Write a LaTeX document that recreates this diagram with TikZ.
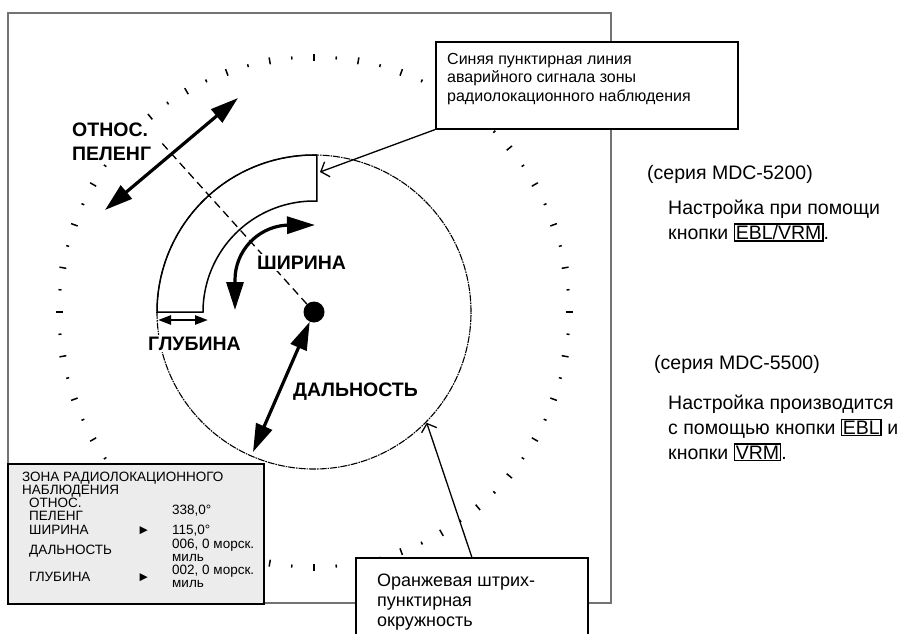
\documentclass[tikz,border=0pt]{standalone}
\usepackage{fontspec}
\setmainfont{Liberation Sans}
\usetikzlibrary{calc,arrows.meta}

\newcommand{\keybox}[1]{{\setlength{\fboxsep}{0.6pt}\setlength{\fboxrule}{1.5pt}\fbox{#1}}}

\begin{document}
\begin{tikzpicture}[x=1pt,y=1pt,
    biglabel/.style={font=\fontsize{19.5}{24.3}\bfseries\selectfont, fill=white, inner sep=2pt, anchor=base west, align=left},
    tbl/.style={font=\fontsize{13.5}{13}\selectfont, inner sep=0pt, anchor=base west, align=left},
    note/.style={font=\fontsize{19.5}{24.7}\selectfont, inner sep=0pt, anchor=base west, align=left},
    callout/.style={draw, line width=1.6pt, fill=white, anchor=north west},
    dblarrow/.style={line width=3.2pt, {Triangle[length=28pt,width=17pt]}-{Triangle[length=28pt,width=17pt]}},
    pointer/.style={line width=1.3pt, -{Straight Barb[length=7pt,width=16pt]}},
]
    \useasboundingbox (0,0) rectangle (904,-633);
    \clip (0,0) rectangle (904,-633);

    % screen frame
    \draw[black!55, line width=1.3pt] (8,-13) rectangle (611,-603);

    \node[circle, fill, inner sep=0pt, minimum size=21pt] (c) at (314,-312) {};

    % bearing scale
    \foreach \a in {0,5,...,355} {
        \pgfmathsetmacro{\ticklen}{mod(\a,10)==0 ? 7 : 3}
        \draw[line width=1.5pt] ($(c)+(\a:{255-\ticklen/2})$) -- ($(c)+(\a:{255+\ticklen/2})$);
    }
    % label drawn early: it hides a few scale ticks, not the arrow
    \node[biglabel, text width=98pt] (lbrg) at (70,-136) {ОТНОС.\\ПЕЛЕНГ};

    % range ring and guard zone
    \draw[line width=1.1pt, dash pattern=on 7pt off 1pt on 1.5pt off 1pt] (c) circle[radius=157];
    \draw[line width=1.5pt]
        ($(c)+(180:157)$) arc[start angle=180, end angle=89, radius=157]
        -- ($(c)+(88.5:111)$) arc[start angle=88.5, end angle=180, radius=111]
        -- cycle;

    \coordinate (brgend) at ($(c)+(132:229)$);
    \draw[line width=1.3pt, dash pattern=on 8pt off 5pt] (c) -- (brgend);

    % arrows
    \coordinate (brgA) at (105,-210);
    \coordinate (brgB) at (238,-98);
    \draw[dblarrow] (brgA) -- (brgB);

    \coordinate (widA) at (235,-310);
    \coordinate (widB) at (315,-225);
    \draw[dblarrow] (widA) -- ++(0,30) arc[start angle=180, end angle=95, radius=55] -- (widB);

    \coordinate (rngend) at (253,-452);
    \draw[dblarrow] (rngend) -- (c);

    \coordinate (depA) at (158,-320);
    \coordinate (depB) at (208,-320);
    \draw[line width=2.5pt, {Triangle[length=13pt,width=9pt]}-{Triangle[length=13pt,width=9pt]}] (depA) -- (depB);

    % labels
    \node[biglabel] (lwid) at (255,-269.3) {ШИРИНА};
    \node[biglabel] (ldep) at (146,-350) {ГЛУБИНА};
    \node[biglabel] (lrng) at (291,-396.7) {ДАЛЬНОСТЬ};

    % callouts
    \node[callout, minimum width=302pt, minimum height=87pt] (bluebox) at (435,-41) {};
    \node[tbl, font=\fontsize{16}{18.5}\selectfont] (bluetext) at (447,-101)
        {Синяя пунктирная линия\\аварийного сигнала зоны\\радиолокационного наблюдения};
    \coordinate (zonetip) at (320,-172);
    \draw[pointer] (bluebox.south west) -- (zonetip);

    \node[callout, minimum width=232pt, minimum height=120pt] (orangebox) at (355,-557) {};
    \node[tbl, font=\fontsize{18}{20}\selectfont] (orangetext) at (377,-626)
        {Оранжевая штрих-\\пунктирная\\окружность};
    \coordinate (ringtip) at ($(c)+(-44.5:158)$);
    \draw[pointer] (orangebox.north) -- (ringtip);

    % guard zone readout
    \node[callout, fill=gray!15, minimum width=256pt, minimum height=140pt] (zonebox) at (7,-463) {};
    \node[tbl] (ztitle) at (22,-494) {ЗОНА РАДИОЛОКАЦИОННОГО\\НАБЛЮДЕНИЯ};
    \node[tbl] (zbrg) at (29,-520.7) {ОТНОС.\\ПЕЛЕНГ};
    \node[tbl] (zwid) at (29,-534) {ШИРИНА};
    \node[tbl] (zrng) at (29,-554) {ДАЛЬНОСТЬ};
    \node[tbl] (zdep) at (29,-581) {ГЛУБИНА};
    \node[tbl] (zsel1) at (137,-534) {►};
    \node[tbl] (zsel2) at (137,-581) {►};
    \node[tbl] (vbrg) at (172,-514) {338,0°};
    \node[tbl] (vwid) at (172,-534) {115,0°};
    \node[tbl] (vrng) at (172,-561) {006, 0 морск.\\миль};
    \node[tbl] (vdep) at (172,-587) {002, 0 морск.\\миль};

    % key notes
    \node[note] (s5200) at (647,-179.5) {(серия MDC-5200)};
    \node[note] (n5200) at (668,-239.5) {Настройка при помощи\\кнопки \keybox{EBL/VRM}.};
    \node[note] (s5500) at (654,-369) {(серия MDC-5500)};
    \node[note] (n5500) at (668,-459) {Настройка производится\\с помощью кнопки \keybox{EBL} и\\кнопки \keybox{VRM}.};

\end{tikzpicture}
\end{document}
